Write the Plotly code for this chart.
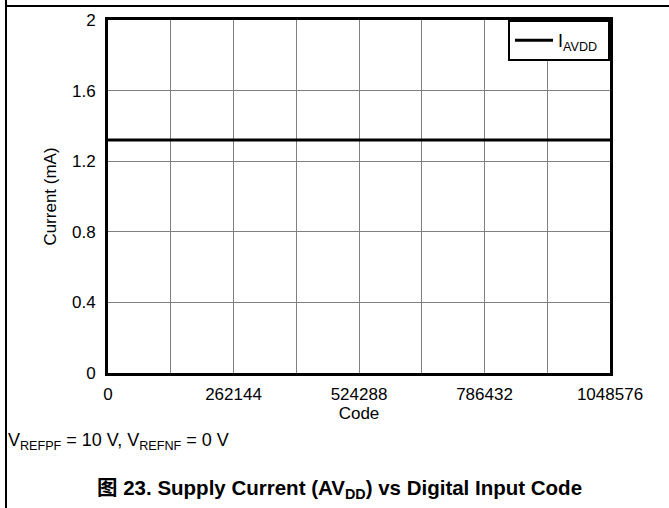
import plotly.graph_objects as go

codes = [0, 131072, 262144, 393216, 524288, 655360, 786432, 917504, 1048576]
current_ma = [1.32, 1.32, 1.32, 1.32, 1.32, 1.32, 1.32, 1.32, 1.32]
x_ticks = [0, 262144, 524288, 786432, 1048576]
x_tick_labels = ["0", "262144", "524288", "786432", "1048576"]
x_minor_grid = [131072, 393216, 655360, 917504]
y_ticks = [0, 0.4, 0.8, 1.2, 1.6, 2]
y_tick_labels = ["0", "0.4", "0.8", "1.2", "1.6", "2"]

FONT = "Liberation Sans, Arial, Noto Sans CJK SC, sans-serif"

L, R, T, B = 108, 59, 20, 135
W, H = 669, 508
PW = W - L - R
PH = H - T - B

def px(x):
    return (x - L) / PW

def py(y):
    return (H - B - y) / PH

fig = go.Figure()
fig.add_trace(go.Scatter(
    x=codes, y=current_ma, mode="lines",
    line=dict(color="black", width=3),
    name="I<sub>AVDD</sub> ",
))

fig.update_layout(
    width=W, height=H,
    margin=dict(l=L, r=R, t=T, b=B),
    paper_bgcolor="white", plot_bgcolor="white",
    font=dict(family=FONT, size=17, color="black"),
    showlegend=True,
    legend=dict(
        x=1, y=1, xanchor="right", yanchor="top",
        bgcolor="white", bordercolor="black", borderwidth=2,
        font=dict(size=18), itemwidth=38,
    ),
    xaxis=dict(
        range=[0, 1048576], tickvals=x_ticks, ticktext=x_tick_labels,
        showgrid=True, gridcolor="#808080", gridwidth=1,
        minor=dict(tickvals=x_minor_grid, showgrid=True,
                   gridcolor="#808080", gridwidth=1, ticks=""),
        showline=True, linecolor="black", linewidth=3, mirror=True,
        ticks="", zeroline=False, ticklabelstandoff=4,
        title=dict(text="Code", standoff=0, font=dict(size=17)),
    ),
    yaxis=dict(
        range=[0, 2], tickvals=y_ticks, ticktext=y_tick_labels,
        showgrid=True, gridcolor="#808080", gridwidth=1,
        showline=True, linecolor="black", linewidth=3, mirror=True,
        ticks="", zeroline=False, ticklabelstandoff=6,
        title=dict(text="Current (mA)", standoff=12, font=dict(size=17)),
    ),
)

fig.add_annotation(
    text="V<sub>REFPF</sub> = 10 V, V<sub>REFNF</sub> = 0 V",
    xref="paper", yref="paper", x=px(6), y=py(441),
    xanchor="left", yanchor="middle", showarrow=False,
    font=dict(size=18),
)
fig.add_annotation(
    text="<b>图 23. Supply Current (AV<sub>DD</sub>) vs Digital Input Code</b>",
    xref="paper", yref="paper", x=px(339), y=py(489),
    xanchor="center", yanchor="middle", showarrow=False,
    font=dict(size=20.5),
)

# outer frame lines
fig.add_shape(type="line", xref="paper", yref="paper",
              x0=px(6), x1=px(669), y0=py(6), y1=py(6),
              line=dict(color="black", width=2))
fig.add_shape(type="line", xref="paper", yref="paper",
              x0=px(6), x1=px(6), y0=py(0), y1=py(508),
              line=dict(color="black", width=2))

fig.write_html("out.html", config={"displayModeBar": False},
               post_script="document.body.style.margin='0';document.body.style.overflow='hidden';")
